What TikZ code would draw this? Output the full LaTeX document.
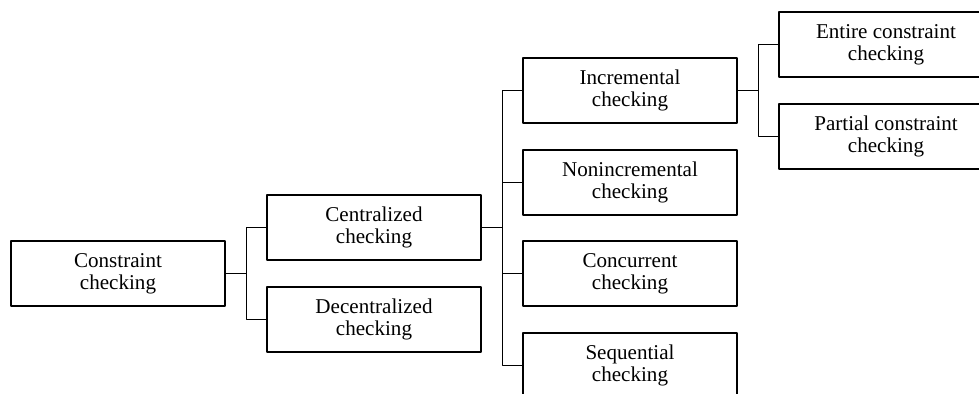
\documentclass[tikz,border=0pt]{standalone}
\usepackage{fontspec}
\setmainfont{Liberation Serif}
\tikzset{
  box/.style={draw, line width=0.7pt, minimum width=4.28cm, minimum height=1.3cm,
    inner sep=0pt, align=center, font=\fontsize{12}{12.5}\selectfont},
  link/.style={line width=0.8pt}
}
\begin{document}
\begin{tikzpicture}[x=0.02cm, y=-0.02cm, line join=round]
\useasboundingbox (0,0) rectangle (979,394);
\clip (0,0) rectangle (979,394);
% levels
\node[box] (root) at (118,273.5) {Constraint\\checking};
\node[box] (cent) at (374,227.5) {Centralized\\checking};
\node[box] (decent) at (374,319.5) {Decentralized\\checking};
\node[box] (incr) at (630,90.5) {Incremental\\checking};
\node[box] (nonincr) at (630,182.5) {Nonincremental\\checking};
\node[box] (conc) at (630,273.5) {Concurrent\\checking};
\node[box] (seq) at (630,365.5) {Sequential\\checking};
\node[box] (entire) at (886,44.5) {Entire constraint\\checking};
\node[box] (partial) at (886,136.5) {Partial constraint\\checking};
% links
\draw[link] (root.east) -- ++(21,0) |- (cent.west);
\draw[link] (root.east) -- ++(21,0) |- (decent.west);
\foreach \n in {incr,nonincr,conc,seq}
  \draw[link] (cent.east) -- ++(21,0) |- (\n.west);
\draw[link] (incr.east) -- ++(21,0) |- (entire.west);
\draw[link] (incr.east) -- ++(21,0) |- (partial.west);
\end{tikzpicture}
\end{document}
